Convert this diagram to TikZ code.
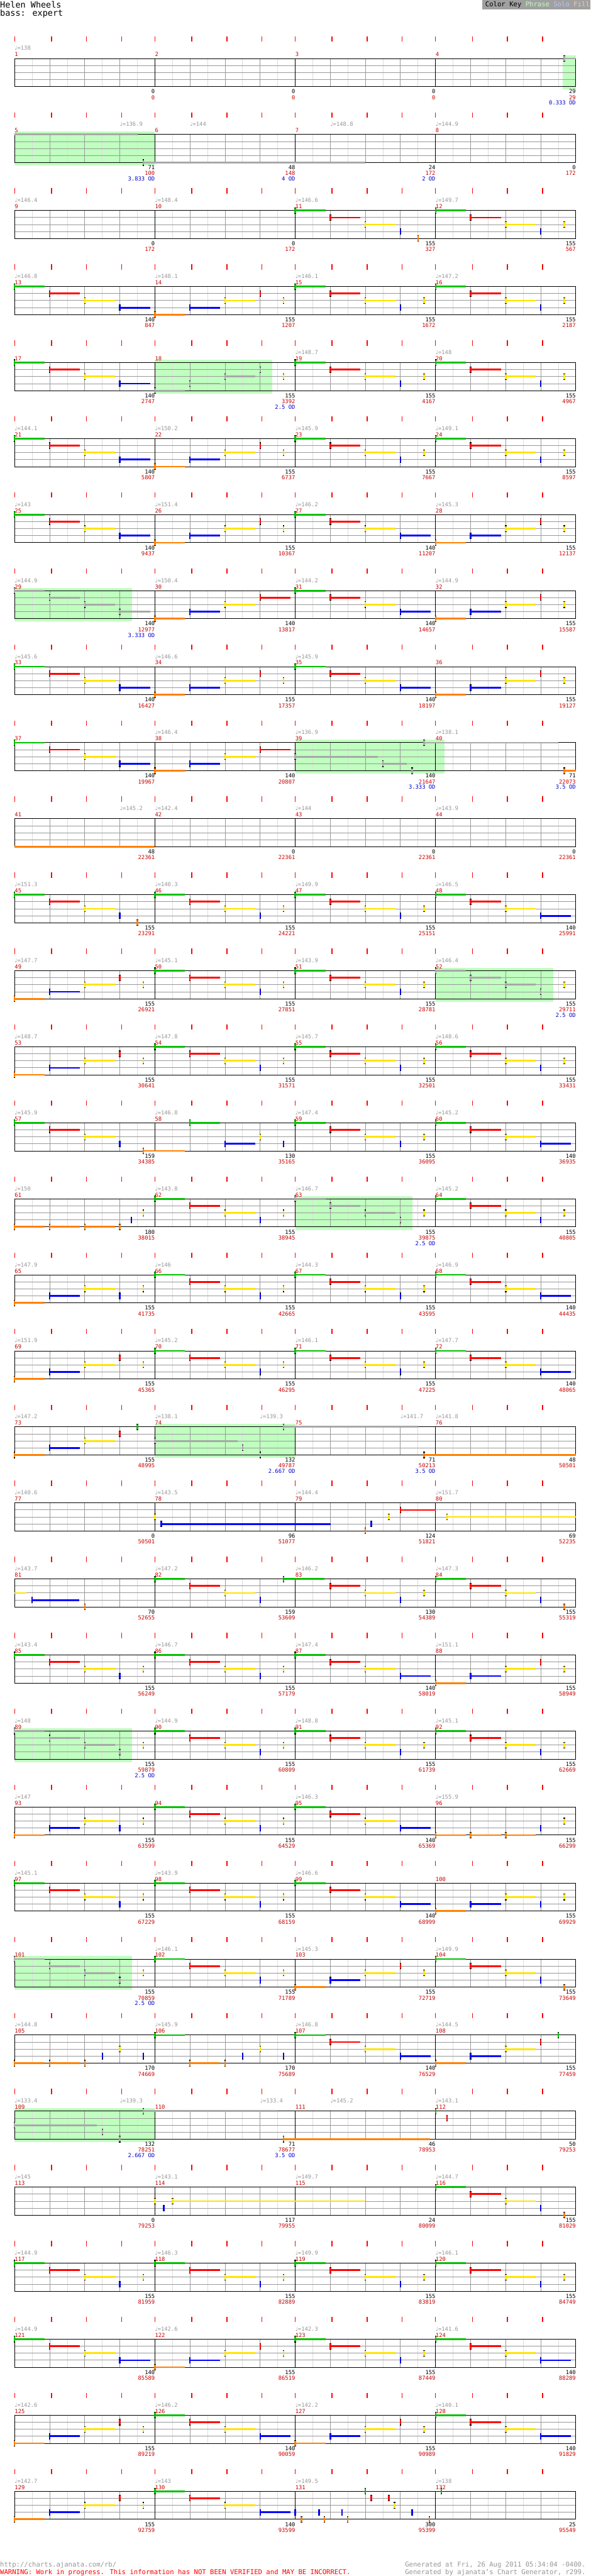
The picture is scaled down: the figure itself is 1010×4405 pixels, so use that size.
\documentclass[tikz,border=0pt]{standalone}
\usepackage{fontspec}
\setmainfont{DejaVu Sans Mono}
\newfontfamily\notefont{DejaVu Sans}
\usetikzlibrary{calc}

\definecolor{gemgreen}{RGB}{0,192,0}
\definecolor{gemred}{RGB}{255,0,0}
\definecolor{gemyellow}{RGB}{255,228,0}
\definecolor{gemblue}{RGB}{0,0,255}
\definecolor{gemorange}{RGB}{255,128,0}
\definecolor{gemgray}{RGB}{168,168,168}
\definecolor{phrasegreen}{RGB}{192,255,192}
\definecolor{solocol}{RGB}{192,192,255}
\definecolor{fillcol}{RGB}{255,192,192}
\definecolor{keygray}{RGB}{160,160,160}
\definecolor{gridlight}{RGB}{221,221,221}
\definecolor{gridmid}{RGB}{153,153,153}
\definecolor{tickred}{RGB}{255,0,0}
\definecolor{numred}{RGB}{204,0,0}
\definecolor{odblue}{RGB}{0,0,204}
\definecolor{tempogray}{RGB}{150,150,150}

\newcommand\notesym{{\notefont ♩}}
\newcommand\susl{0.86}
% gem: colour, lane, beat, sustain (beats)
\newcommand\nt[4]{%
  \ifdim#4pt>0pt \draw[sustain=#1] (#3,12*#2) -- ++(#4,0);\fi
  \draw[gemcap] (#3,12*#2-5.5) -- (#3,12*#2+5.5);
  \draw[gemhead=#1] (#3,12*#2-4.3) -- (#3,12*#2+4.3);}
\newcommand\holdtail[4]{\draw[sustain=#1] (#3,12*#2) -- (#4,12*#2);}
% measure patterns
\newcommand\patA[1]{\nt{gemgreen}{0}{#1}{\susl}\nt{gemred}{1}{#1+1}{\susl}\nt{gemyellow}{2}{#1+2}{\susl}\nt{gemblue}{3}{#1+3}{\susl}}
\newcommand\patB[1]{\nt{gemgreen}{0}{#1}{\susl}\nt{gemred}{1}{#1+1}{\susl}\nt{gemyellow}{2}{#1+2}{\susl}\nt{gemblue}{3}{#1+3}{0}\nt{gemyellow}{2}{#1+3.67}{0}}
\newcommand\patC[1]{\nt{gemorange}{4}{#1}{\susl}\nt{gemblue}{3}{#1+1}{\susl}\nt{gemyellow}{2}{#1+2}{\susl}\nt{gemred}{1}{#1+3}{0}\nt{gemyellow}{2}{#1+3.67}{0}}
\newcommand\patD[1]{\nt{gemorange}{4}{#1}{\susl}\nt{gemblue}{3}{#1+1}{\susl}\nt{gemyellow}{2}{#1+2}{\susl}\nt{gemred}{1}{#1+3}{\susl}}
\newcommand\patE[1]{\nt{gemorange}{4}{#1}{\susl}\nt{gemblue}{3}{#1+1}{\susl}\nt{gemyellow}{2}{#1+2}{\susl}\nt{gemblue}{3}{#1+3}{0}\nt{gemyellow}{2}{#1+3.67}{0}}
\newcommand\patF[1]{\nt{gemgreen}{0}{#1}{\susl}\nt{gemred}{1}{#1+1}{\susl}\nt{gemyellow}{2}{#1+2}{\susl}\nt{gemblue}{3}{#1+3}{0}\nt{gemorange}{4}{#1+3.5}{0}}
\newcommand\patG[1]{\nt{gemgreen}{0}{#1}{\susl}\nt{gemred}{1}{#1+1}{\susl}\nt{gemyellow}{2}{#1+2}{\susl}\nt{gemblue}{3}{#1+3}{0}\nt{gemorange}{4}{#1+3.67}{0}}
\newcommand\patAg[1]{\nt{gemgray}{0}{#1}{\susl}\nt{gemgray}{1}{#1+1}{\susl}\nt{gemgray}{2}{#1+2}{\susl}\nt{gemgray}{3}{#1+3}{\susl}}
\newcommand\patBg[1]{\nt{gemgray}{0}{#1}{\susl}\nt{gemgray}{1}{#1+1}{\susl}\nt{gemgray}{2}{#1+2}{\susl}\nt{gemgray}{3}{#1+3}{0}\nt{gemyellow}{2}{#1+3.67}{0}}
\newcommand\odnum[2]{\node[odv] (od\currow-#1) at (4*#1,79.5) {#2 OD};}
% row: index, tempos, counts/scores, notes
\newcommand\chartrow[4]{%
  \begin{scope}[staffrow=#1]
    \def\currow{#1}
    \foreach \b/\v in {#2} \node[tempo] (tp#1-\b) at (\b,-14) {\notesym=\v};
    \foreach \c/\k/\p in {#3} {
      \node[cnt] (cnt#1-\c) at (4*\c,60) {\k};
      \node[pts] (pts#1-\c) at (4*\c,70) {\p};}
    #4
  \end{scope}}

\begin{document}
\begin{tikzpicture}[x=1pt, y=-1pt,
    staffrow/.style={shift={(25,100+130*#1)}, x=60pt},
    gridlt/.style={draw=gridlight, line width=0.9pt},
    gridmd/.style={draw=gridmid, line width=1pt},
    gridbk/.style={draw=black, line width=1pt},
    beattick/.style={draw=tickred, line width=1.6pt},
    sustain/.style={draw=#1, line width=3pt},
    gemcap/.style={draw=black, line width=2.6pt},
    gemhead/.style={draw=#1, line width=2.6pt},
    smalltxt/.style={font=\fontsize{9.5}{10}\selectfont, inner sep=0pt},
    tempo/.style={smalltxt, text=tempogray, anchor=base west},
    mnum/.style={smalltxt, text=numred, anchor=base west},
    cnt/.style={smalltxt, text=black, anchor=base east},
    pts/.style={smalltxt, text=numred, anchor=base east},
    odv/.style={smalltxt, text=odblue, anchor=base east},
    foot/.style={font=\fontsize{11.4}{12}\selectfont, inner sep=0pt}
]
\useasboundingbox (0,0) rectangle (1010,4405);
\fill[white] (0,0) rectangle (1010,4405);

% Header
\node[anchor=base west, font=\fontsize{14.5}{16}\selectfont, inner sep=0pt] (title) at (0,13) {Helen Wheels};
\node[anchor=base west, font=\fontsize{14.5}{16}\selectfont, inner sep=0pt] (part) at (0,27.5) {bass: expert};
\fill[keygray] (825,0) rectangle (1010,15.7);
\node[foot, anchor=base west] (key) at (830,11.5) {Color Key \textcolor{phrasegreen}{Phrase} \textcolor{solocol}{Solo} \textcolor{fillcol}{Fill}};

% Overdrive phrases
\foreach \r/\a/\b in {0/15.63/16, 1/0/4, 4/4/7.35, 7/0/3.35, 9/8/12.25, 12/12/15.35,
    15/8/11.34, 18/4/8, 22/0/3.35, 25/0/3.35, 27/0/4} {
  \begin{scope}[staffrow=\r]
    \fill[phrasegreen] (\a,-5) rectangle (\b,53);
  \end{scope}}

% Staves
\foreach \r in {0,...,32} {
  \begin{scope}[staffrow=\r]
    \foreach \k in {0.5,1.5,...,15.5} \draw[gridlt] (\k,0) -- (\k,48);
    \foreach \k in {1,...,15} \draw[gridmd] (\k,0) -- (\k,48);
    \foreach \l in {12,24,36} \draw[gridmd] (0,\l) -- (16,\l);
    \foreach \k in {0,4,...,16} \draw[gridbk] (\k,0) -- (\k,48);
    \draw[gridbk] (0,0) -- (16,0) (0,48) -- (16,48);
    \foreach \k in {0,...,15} {
      \pgfmathsetmacro\tx{\k+0.05*(mod(\k,4)>0)}
      \draw[beattick] (\tx,-38) -- (\tx,-29);}
    \foreach \c in {0,...,3} {
      \pgfmathtruncatemacro\n{4*\r+\c+1}
      \node[mnum] (m\n) at (4*\c,-3.3) {\n};}
  \end{scope}}

% Notes, tempos and scores
\chartrow{0}{0/138}{1/0/0, 2/0/0, 3/0/0, 4/29/29}{\odnum{4}{0.333}\nt{gemgray}{0}{15.67}{0.33}}
\chartrow{1}{3/136.9, 5/144, 9/148.8, 12/144.9}{1/71/100, 2/48/148, 3/24/172, 4/0/172}{%
  \odnum{1}{3.833}\odnum{2}{4}\odnum{3}{2}
  \holdtail{gemgray}{0}{0}{3.5}\nt{gemgray}{4}{3.67}{6.33}}
\chartrow{2}{0/146.4, 4/148.4, 8/146.6, 12/149.7}{1/0/172, 2/0/172, 3/155/327, 4/155/567}{\patF{8}\patB{12}}
\chartrow{3}{0/146.8, 4/148.1, 8/146.1, 12/147.2}{1/140/847, 2/155/1207, 3/155/1672, 4/155/2187}{\patA{0}\patC{4}\patB{8}\patB{12}}
\chartrow{4}{8/148.7, 12/148}{1/140/2747, 2/155/3392, 3/155/4167, 4/155/4967}{%
  \odnum{2}{2.5}\patA{0}
  \nt{gemgray}{4}{4}{\susl}\nt{gemgray}{3}{5}{\susl}\nt{gemgray}{2}{6}{\susl}\nt{gemgray}{1}{7}{0}
  \nt{gemyellow}{2}{7.67}{0}\patB{8}\patB{12}}
\chartrow{5}{0/144.1, 4/150.2, 8/145.9, 12/149.1}{1/140/5807, 2/155/6737, 3/155/7667, 4/155/8597}{\patA{0}\patC{4}\patB{8}\patB{12}}
\chartrow{6}{0/143, 4/151.4, 8/146.2, 12/145.3}{1/140/9437, 2/155/10367, 3/140/11207, 4/155/12137}{\patA{0}\patC{4}\patA{8}\patC{12}}
\chartrow{7}{0/144.9, 4/150.4, 8/144.2, 12/144.9}{1/140/12977, 2/140/13817, 3/140/14657, 4/155/15587}{%
  \odnum{1}{3.333}\patAg{0}\patD{4}\patA{8}\patC{12}}
\chartrow{8}{0/145.6, 4/146.6, 8/145.9}{1/140/16427, 2/155/17357, 3/140/18197, 4/155/19127}{\patA{0}\patC{4}\patA{8}\patC{12}}
\chartrow{9}{4/146.4, 8/136.9, 12/138.1}{1/140/19967, 2/140/20807, 3/140/21647, 4/71/22073}{%
  \odnum{3}{3.333}\odnum{4}{3.5}\patA{0}\patD{4}
  \nt{gemgray}{2}{8}{2.35}\nt{gemgray}{3}{10.5}{0.68}\nt{gemgray}{4}{11.33}{0}
  \nt{gemgray}{0}{11.67}{3.83}\nt{gemorange}{4}{15.67}{0.33}}
\chartrow{10}{3/145.2, 4/142.4, 8/144, 12/143.9}{1/48/22361, 2/0/22361, 3/0/22361, 4/0/22361}{\holdtail{gemorange}{4}{0}{4}}
\chartrow{11}{0/151.3, 4/140.3, 8/149.9, 12/146.5}{1/155/23291, 2/155/24221, 3/155/25151, 4/140/25991}{\patF{0}\patB{4}\patB{8}\patA{12}}
\chartrow{12}{0/147.7, 4/145.1, 8/143.9, 12/146.4}{1/155/26921, 2/155/27851, 3/155/28781, 4/155/29711}{%
  \odnum{4}{2.5}\patC{0}\patB{4}\patB{8}\patBg{12}}
\chartrow{13}{0/148.7, 4/147.8, 8/145.7, 12/148.6}{1/155/30641, 2/155/31571, 3/155/32501, 4/155/33431}{\patC{0}\patB{4}\patB{8}\patB{12}}
\chartrow{14}{0/145.9, 4/146.8, 8/147.4, 12/145.2}{1/159/34385, 2/130/35165, 3/155/36095, 4/140/36935}{%
  \nt{gemgreen}{0}{0}{\susl}\nt{gemred}{1}{1}{\susl}\nt{gemyellow}{2}{2}{\susl}\nt{gemblue}{3}{3}{0}
  \nt{gemorange}{4}{3.67}{1.18}
  \nt{gemgreen}{0}{5}{\susl}\nt{gemblue}{3}{6}{\susl}\nt{gemyellow}{2}{7}{0}\nt{gemblue}{3}{7.67}{0}
  \patB{8}\patA{12}}
\chartrow{15}{0/150, 4/143.8, 8/146.7, 12/145.2}{1/180/38015, 2/155/38945, 3/155/39875, 4/155/40805}{%
  \odnum{3}{2.5}
  \nt{gemorange}{4}{0}{\susl}\nt{gemorange}{4}{1}{\susl}\nt{gemorange}{4}{2}{\susl}\nt{gemorange}{4}{3}{0}
  \nt{gemblue}{3}{3.33}{0}\nt{gemyellow}{2}{3.67}{0}
  \patB{4}\patBg{8}\patB{12}}
\chartrow{16}{0/147.9, 4/146, 8/144.3, 12/146.9}{1/155/41735, 2/155/42665, 3/155/43595, 4/140/44435}{\patE{0}\patB{4}\patB{8}\patA{12}}
\chartrow{17}{0/151.9, 4/145.2, 8/146.1, 12/147.7}{1/155/45365, 2/155/46295, 3/155/47225, 4/140/48065}{\patC{0}\patB{4}\patB{8}\patA{12}}
\chartrow{18}{0/147.2, 4/138.1, 7/139.3, 11/141.7, 12/141.8}{1/155/48995, 2/132/49787, 3/71/50213, 4/48/50501}{%
  \odnum{2}{2.667}\odnum{3}{3.5}
  \nt{gemorange}{4}{0}{\susl}\nt{gemblue}{3}{1}{\susl}\nt{gemyellow}{2}{2}{\susl}
  \nt{gemred}{1}{3}{0}\nt{gemgreen}{0}{3.5}{0}
  \nt{gemgray}{2}{4}{2.35}\nt{gemgray}{3}{6.5}{0}\nt{gemgray}{4}{7}{0}\nt{gemgray}{0}{7.67}{3.83}
  \nt{gemorange}{4}{11.67}{4.33}}
\chartrow{19}{0/140.6, 4/143.5, 8/144.4, 12/151.7}{1/0/50501, 2/96/51077, 3/124/51821, 4/69/52235}{%
  \nt{gemyellow}{2}{4}{0}\nt{gemblue}{3}{4.18}{4.83}
  \nt{gemorange}{4}{10}{0}\nt{gemblue}{3}{10.17}{0}\nt{gemyellow}{2}{10.67}{0}\nt{gemred}{1}{11}{1}
  \nt{gemyellow}{2}{12.33}{3.67}}
\chartrow{20}{0/143.7, 4/147.2, 8/146.2, 12/147.3}{1/70/52655, 2/159/53609, 3/130/54389, 4/155/55319}{%
  \holdtail{gemyellow}{2}{0}{0.33}
  \nt{gemblue}{3}{0.5}{1.35}\nt{gemorange}{4}{2}{0}
  \nt{gemgreen}{0}{4}{\susl}\nt{gemred}{1}{5}{\susl}\nt{gemyellow}{2}{6}{\susl}\nt{gemblue}{3}{7}{0}
  \nt{gemgreen}{0}{7.67}{1.17}\nt{gemred}{1}{9}{\susl}\nt{gemyellow}{2}{10}{\susl}
  \nt{gemblue}{3}{11}{0}\nt{gemyellow}{2}{11.67}{0}
  \patG{12}}
\chartrow{21}{0/143.4, 4/146.7, 8/147.4, 12/151.1}{1/155/56249, 2/155/57179, 3/140/58019, 4/155/58949}{\patB{0}\patB{4}\patA{8}\patC{12}}
\chartrow{22}{0/148, 4/144.9, 8/148.8, 12/145.1}{1/155/59879, 2/155/60809, 3/155/61739, 4/155/62669}{%
  \odnum{1}{2.5}\patBg{0}\patB{4}\patB{8}\patB{12}}
\chartrow{23}{0/147, 8/146.3, 12/155.9}{1/155/63599, 2/155/64529, 3/140/65369, 4/155/66299}{%
  \patE{0}\patB{4}\patA{8}
  \nt{gemorange}{4}{12}{\susl}\nt{gemorange}{4}{13}{\susl}\nt{gemorange}{4}{14}{\susl}
  \nt{gemblue}{3}{15}{0}\nt{gemyellow}{2}{15.67}{0}}
\chartrow{24}{0/145.1, 4/143.9, 8/146.6}{1/155/67229, 2/155/68159, 3/140/68999, 4/155/69929}{\patB{0}\patB{4}\patA{8}\patE{12}}
\chartrow{25}{4/146.1, 8/145.3, 12/149.9}{1/155/70859, 2/155/71789, 3/155/72719, 4/155/73649}{%
  \odnum{1}{2.5}\patBg{0}\patB{4}\patC{8}\patG{12}}
\chartrow{26}{0/144.8, 4/145.9, 8/146.8, 12/144.5}{1/170/74669, 2/170/75689, 3/140/76529, 4/155/77459}{%
  \nt{gemorange}{4}{0}{\susl}\nt{gemorange}{4}{1}{\susl}\nt{gemorange}{4}{2}{0}
  \nt{gemblue}{3}{2.5}{0}\nt{gemyellow}{2}{3}{0}\nt{gemblue}{3}{3.67}{0}
  \nt{gemgreen}{0}{4}{\susl}\nt{gemorange}{4}{5}{\susl}\nt{gemorange}{4}{6}{0}
  \nt{gemblue}{3}{6.5}{0}\nt{gemyellow}{2}{7}{0}\nt{gemblue}{3}{7.67}{0}
  \patA{8}
  \nt{gemorange}{4}{12}{\susl}\nt{gemblue}{3}{13}{\susl}\nt{gemyellow}{2}{14}{\susl}
  \nt{gemred}{1}{15}{0}\nt{gemgreen}{0}{15.5}{0}}
\chartrow{27}{0/133.4, 3/139.3, 7/133.4, 9/145.2, 12/143.1}{1/132/78251, 2/71/78677, 3/46/78953, 4/50/79253}{%
  \odnum{1}{2.667}\odnum{2}{3.5}
  \nt{gemgray}{2}{0}{2.35}\nt{gemgray}{3}{2.5}{0}\nt{gemgray}{4}{3}{0}\nt{gemgray}{0}{3.67}{3.83}
  \nt{gemorange}{4}{7.67}{4.18}
  \nt{gemgreen}{0}{12}{0}\nt{gemred}{1}{12.33}{0}}
\chartrow{28}{0/145, 4/143.1, 8/149.7, 12/144.7}{1/0/79253, 2/117/79955, 3/24/80099, 4/155/81029}{%
  \nt{gemyellow}{2}{4}{0}\nt{gemblue}{3}{4.25}{0}\nt{gemyellow}{2}{4.5}{5.5}
  \patG{12}}
\chartrow{29}{0/144.9, 4/146.3, 8/149.9, 12/146.1}{1/155/81959, 2/155/82889, 3/155/83819, 4/155/84749}{\patB{0}\patB{4}\patB{8}\patB{12}}
\chartrow{30}{0/144.9, 4/142.6, 8/142.3, 12/141.6}{1/140/85589, 2/155/86519, 3/155/87449, 4/140/88289}{\patA{0}\patC{4}\patB{8}\patA{12}}
\chartrow{31}{0/142.6, 4/146.2, 8/142.2, 12/140.1}{1/155/89219, 2/140/90059, 3/155/90989, 4/140/91829}{\patC{0}\patA{4}\patC{8}\patA{12}}
\chartrow{32}{0/142.7, 4/143, 8/149.5, 12/138}{1/155/92759, 2/140/93599, 3/300/95399, 4/25/95549}{%
  \patC{0}\patA{4}
  \nt{gemblue}{3}{8}{0}\nt{gemorange}{4}{8.18}{0}\nt{gemblue}{3}{8.68}{0}\nt{gemorange}{4}{8.83}{0}
  \nt{gemblue}{3}{9.33}{0}\nt{gemorange}{4}{9.5}{0}\nt{gemgreen}{0}{10}{0}\nt{gemred}{1}{10.17}{0}
  \nt{gemred}{1}{10.67}{0}\nt{gemyellow}{2}{10.83}{0}\nt{gemblue}{3}{11.33}{0}\nt{gemorange}{4}{11.83}{0}
  \nt{gemgreen}{0}{12.17}{0}}

% Footer
\node[foot, anchor=base west, text=tempogray] (url) at (0,4389) {http://charts.ajanata.com/rb/};
\node[foot, anchor=base west, text=tickred] (warn) at (0,4402) {WARNING: Work in progress. This information has NOT BEEN VERIFIED and MAY BE INCORRECT.};
\node[foot, anchor=base east, text=tempogray] (gen) at (1002,4389) {Generated at Fri, 26 Aug 2011 05:34:04 -0400.};
\node[foot, anchor=base east, text=tempogray] (genby) at (1002,4402) {Generated by ajanata's Chart Generator, r299.};
\end{tikzpicture}
\end{document}
